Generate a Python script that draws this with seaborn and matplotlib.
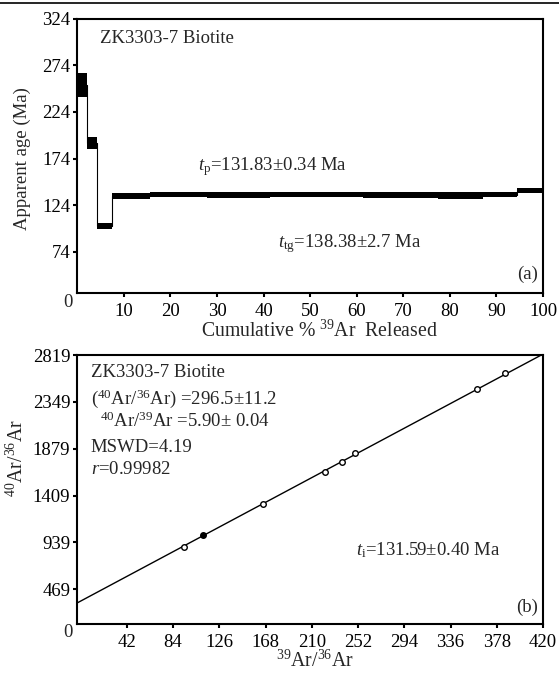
import numpy as np
import pandas as pd
import seaborn as sns
import matplotlib.pyplot as plt
from matplotlib.lines import Line2D

# --- (a) age spectrum: step boundaries (cumulative % 39Ar), ages and half-heights (Ma)
step_edges = [0, 2.0, 4.2, 7.4, 15.6, 27.9, 41.4, 61.3, 77.5, 87.1, 94.4, 100]
step_ages = [253, 190.6, 102, 133.6, 135.5, 135.0, 135.5, 134.5, 134.5, 135.5, 140]
step_errs = [13, 6, 3.4, 3.4, 2.4, 3.2, 2.4, 3.2, 3.4, 2.4, 2.8]
age_ticks = [74, 124, 174, 224, 274, 324]
pct_ticks = [10, 20, 30, 40, 50, 60, 70, 80, 90, 100]

# --- (b) isochron: 39Ar/36Ar vs 40Ar/36Ar
iso_x = [94.1, 111.6, 165.5, 222.1, 237.2, 249.3, 360.4, 385.5]
iso_y = [894, 1012, 1320, 1647, 1748, 1838, 2475, 2635]
iso_filled = [False, True, False, False, False, False, False, False]
iso_intercept = 350
iso_slope = 5.90
ratio_yticks = [469, 939, 1409, 1879, 2349, 2819]
ratio_xticks = [42, 84, 126, 168, 210, 252, 294, 336, 378, 420]

sns.set_style("ticks")
plt.rcParams['font.family'] = ['Liberation Serif', 'DejaVu Serif']
plt.rcParams['mathtext.fontset'] = 'custom'
plt.rcParams['mathtext.rm'] = 'Liberation Serif'
plt.rcParams['mathtext.it'] = 'Liberation Serif:italic'
plt.rcParams['axes.linewidth'] = 1.5

FS = 13.5
fig = plt.figure(figsize=(5.59, 6.78), dpi=100)
ax1 = fig.add_axes([0.1383, 0.5678, 0.8331, 0.4049])
ax2 = fig.add_axes([0.1383, 0.0796, 0.8331, 0.3968])

# page rule at the top of the scan
fig.add_artist(Line2D([0.0, 1.0], [0.996, 0.996], transform=fig.transFigure,
                      color='black', lw=1.2))

# ---------- panel (a)
widths = np.diff(step_edges)
ages = np.array(step_ages)
errs = np.array(step_errs)
ax1.bar(step_edges[:-1], 2 * errs, bottom=ages - errs, width=widths,
        align='edge', color='black', linewidth=0, zorder=3)
sns.lineplot(x=step_edges, y=step_ages + [step_ages[-1]], drawstyle='steps-post',
             estimator=None, color='black', linewidth=0.8, ax=ax1, zorder=2)

ax1.set_xlim(0, 100)
ax1.set_ylim(30, 324)
ax1.set_yticks(age_ticks)
ax1.set_xticks(pct_ticks)
ax1.set_xticklabels([str(t) for t in pct_ticks])
ax1.set_yticklabels([str(t) for t in age_ticks])
ax1.set_xlabel(r'Cumulative % $^{39}$Ar  Released', fontsize=14.2)
ax1.xaxis.set_label_coords(0.519, -0.138)
ax1.xaxis.label.set_va('center')
ax1.set_ylabel('Apparent age (Ma)', fontsize=FS)
ax1.yaxis.set_label_coords(-0.119, 0.49)
ax1.yaxis.label.set_va('center')

ax1.text(0.049, 0.929, 'ZK3303-7 Biotite', transform=ax1.transAxes,
         fontsize=FS, va='center', ha='left')
ax1.text(0.259, 0.459, r'$\it{t}_{\rm p}$=131.83±0.34 Ma', transform=ax1.transAxes,
         fontsize=FS, va='center', ha='left')
ax1.text(0.432, 0.182, r'$\it{t}_{\rm tg}$=138.38±2.7 Ma', transform=ax1.transAxes,
         fontsize=FS, va='center', ha='left')
ax1.text(0.99, 0.035, '(a)', transform=ax1.transAxes,
         fontsize=FS, va='bottom', ha='right')
ax1.text(-0.02, -0.033, '0', transform=ax1.transAxes,
         fontsize=FS, va='center', ha='center')

# ---------- panel (b)
line_x = np.array([-3, 420])
line_y = iso_intercept + iso_slope * line_x
sns.lineplot(x=line_x, y=line_y, color='black', linewidth=1.0, ax=ax2, zorder=2)

iso = pd.DataFrame({'x': iso_x, 'y': iso_y, 'filled': iso_filled})
sns.scatterplot(data=iso[~iso['filled']], x='x', y='y', s=16, marker='o',
                facecolor='white', edgecolor='black', linewidth=1.0, ax=ax2, zorder=3)
sns.scatterplot(data=iso[iso['filled']], x='x', y='y', s=16, marker='o',
                color='black', edgecolor='black', linewidth=1.0, ax=ax2, zorder=3)

ax2.set_xlim(-3, 420)
ax2.set_ylim(120, 2819)
ax2.set_yticks(ratio_yticks)
ax2.set_xticks(ratio_xticks)
ax2.set_xticklabels([str(t) for t in ratio_xticks])
ax2.set_yticklabels([str(t) for t in ratio_yticks])
ax2.set_xlabel(r'$^{39}$Ar/$^{36}$Ar', fontsize=14.2)
ax2.xaxis.set_label_coords(0.51, -0.138)
ax2.xaxis.label.set_va('center')
ax2.set_ylabel(r'$^{40}$Ar/$^{36}$Ar', fontsize=14.2)
ax2.yaxis.set_label_coords(-0.13, 0.617)
ax2.yaxis.label.set_va('center')

rows = [('ZK3303-7 Biotite', 0.029, 372),
        (r'($^{40}$Ar/$^{36}$Ar) =296.5±11.2', 0.029, 399),
        (r'$^{40}$Ar/$^{39}$Ar =5.90± 0.04', 0.048, 421),
        ('MSWD=4.19', 0.029, 447),
        (r'$\it{r}$=0.99982', 0.029, 469)]
for txt, fx, py in rows:
    ax2.text(fx, (624 - py) / 269, txt, transform=ax2.transAxes,
             fontsize=FS, va='center', ha='left')
ax2.text(0.598, 0.275, r'$\it{t}_{\rm i}$=131.59±0.40 Ma', transform=ax2.transAxes,
         fontsize=FS, va='center', ha='left')
ax2.text(0.99, 0.03, '(b)', transform=ax2.transAxes,
         fontsize=FS, va='bottom', ha='right')
ax2.text(-0.02, -0.033, '0', transform=ax2.transAxes,
         fontsize=FS, va='center', ha='center')

for ax in (ax1, ax2):
    ax.grid(False)
    for sp in ax.spines.values():
        sp.set_visible(True)
        sp.set_linewidth(1.5)
        sp.set_color('black')
    ax.tick_params(direction='out', length=3, width=1.5, pad=2,
                   labelsize=FS, colors='black')
    ax.tick_params(axis='x', pad=4)
    if ax.get_legend() is not None:
        ax.get_legend().remove()

fig.savefig('out.png', dpi=100)
